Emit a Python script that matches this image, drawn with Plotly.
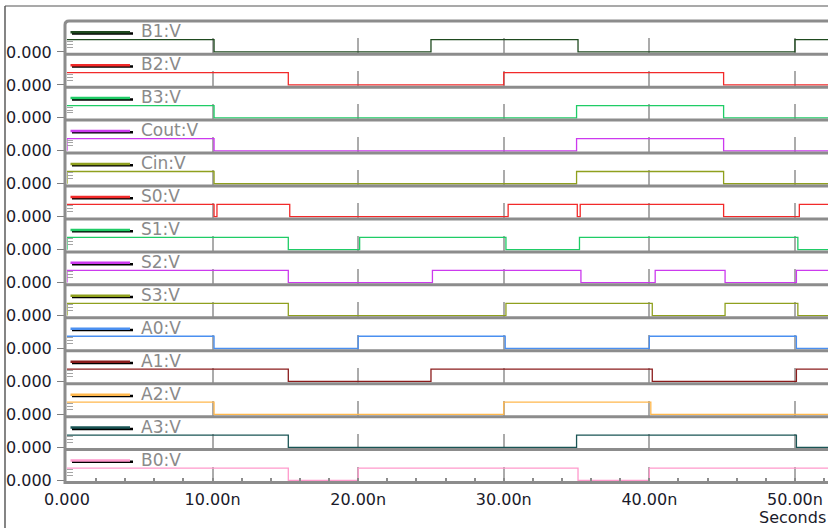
import plotly.graph_objects as go

# ---------------- data ----------------
signals = ["B1:V", "B2:V", "B3:V", "Cout:V", "Cin:V", "S0:V", "S1:V",
           "S2:V", "S3:V", "A0:V", "A1:V", "A2:V", "A3:V", "B0:V"]
colors = ["#1f4a1f", "#f22a2a", "#1fcc66", "#cc3aee", "#8fa01e", "#f22a2a", "#1fcc66",
          "#cc3aee", "#8fa01e", "#4a8ff0", "#8b1c1c", "#ffb84d", "#1a5555", "#ff99cc"]
initial_levels = [1, 1, 1, 0, 0, 1, 0, 0, 0, 1, 1, 1, 1, 1]
# times (ns) at which each signal toggles
edge_times = [
    [10.1, 25.0, 35.1, 50.0],                        # B1
    [15.2, 30.0, 45.1],                              # B2
    [10.1, 35.0, 45.1],                              # B3
    [0.0, 10.1, 35.0, 45.1],                         # Cout
    [0.0, 10.1, 35.0, 45.1],                         # Cin
    [10.1, 10.3, 15.3, 30.3, 35.05, 35.25, 45.1, 50.3],  # S0
    [0.0, 15.2, 20.1, 30.15, 35.2, 50.2],            # S1
    [0.0, 15.2, 25.1, 35.3, 40.4, 45.2, 50.1],       # S2
    [0.0, 15.2, 30.15, 40.2, 45.2, 50.2],            # S3
    [10.1, 20.0, 30.1, 40.0, 50.1],                  # A0
    [15.2, 25.0, 40.2, 50.1],                        # A1
    [10.1, 30.0, 40.1],                              # A2
    [15.2, 35.0, 50.1],                              # A3
    [15.2, 20.0, 35.1, 40.0],                        # B0
]
t_end = 53.0
x_range = [0, 52.27]
x_tick_vals = [0, 10, 20, 30, 40, 50]
x_tick_text = ["0.000", "10.00n", "20.00n", "30.00n", "40.00n", "50.00n"]
y_tick_text = ["0.000"]
x_title = "Seconds"

# ---------------- geometry helpers ----------------
W, H = 828, 528
ML, MR, MT, MB = 67, 0, 18, 42
PW = W - ML - MR
PH = H - MT - MB
FONT = "DejaVu Sans"
GRAY = "#8c8c8c"
TXT = "#1a1a2a"


def px2x(px):
    return (px - ML) / PW


def px2y(py):
    return (H - MB - py) / PH


n = len(signals)
fig = go.Figure()
shapes = []
annotations = []

for k in range(n):
    i = k + 1
    yc = 54.2 + 32.95 * k           # separator centre (px)
    xs, ys = [0.0], [initial_levels[k]]
    lvl = initial_levels[k]
    for t in edge_times[k]:
        lvl = 1 - lvl
        xs.append(t)
        ys.append(lvl)
    xs.append(t_end)
    ys.append(lvl)
    xname = "x" if i == 1 else f"x{i}"
    yname = "y" if i == 1 else f"y{i}"
    fig.add_trace(go.Scatter(x=xs, y=ys, mode="lines", line_shape="hv",
                             line=dict(color=colors[k], width=1.3),
                             xaxis=xname, yaxis=yname, showlegend=False,
                             hoverinfo="skip"))
    bottom = (k == n - 1)
    xa = dict(domain=[0, 1], range=x_range, anchor=yname,
              showgrid=True, gridcolor="#ababab", gridwidth=2,
              zeroline=False, showline=False, fixedrange=True,
              tickmode="array",
              tickvals=x_tick_vals if bottom else x_tick_vals[1:],
              ticktext=x_tick_text if bottom else x_tick_text[1:],
              showticklabels=bottom)
    if bottom:
        xa.update(ticks="inside", ticklen=4, tickcolor=GRAY, tickwidth=1.5,
                  tickfont=dict(family=FONT, size=16, color=TXT),
                  ticklabelstandoff=5,
                  minor=dict(tickmode="linear", tick0=0, dtick=2, ticks="inside",
                             ticklen=5, tickcolor=GRAY, tickwidth=1.5, showgrid=False))
    else:
        xa.update(ticks="")
    ya = dict(domain=[px2y(yc), px2y(yc - 16)], range=[-0.184, 1.122],
              anchor=xname, showgrid=False, zeroline=False, showline=False,
              fixedrange=True, tickmode="array", tickvals=[0], ticktext=y_tick_text,
              ticks="outside", ticklen=9, tickcolor="#808080", tickwidth=1,
              ticklabelstandoff=2,
              tickfont=dict(family=FONT, size=16, color=TXT),
              minor=dict(tickmode="array", tickvals=[0.4, 0.64, 0.88], ticks="inside",
                         ticklen=6, tickcolor="#a5a5a5", tickwidth=1, showgrid=False))
    fig.update_layout({("xaxis" if i == 1 else f"xaxis{i}"): xa,
                       ("yaxis" if i == 1 else f"yaxis{i}"): ya})

    # separator
    shapes.append(dict(type="line", xref="paper", yref="paper",
                       x0=px2x(64), x1=1, y0=px2y(yc), y1=px2y(yc),
                       line=dict(color=GRAY, width=3), layer="above"))
    # legend swatch (shadow + colour)
    shapes.append(dict(type="line", xref="paper", yref="paper",
                       x0=px2x(72), x1=px2x(133), y0=px2y(yc - 20.7), y1=px2y(yc - 20.7),
                       line=dict(color="#000000", width=2.5)))
    shapes.append(dict(type="line", xref="paper", yref="paper",
                       x0=px2x(70.5), x1=px2x(130), y0=px2y(yc - 22), y1=px2y(yc - 22),
                       line=dict(color=colors[k], width=2.5)))
    annotations.append(dict(text=signals[k], xref="paper", yref="paper",
                            x=px2x(139), y=px2y(yc - 23), xanchor="left", yanchor="middle",
                            showarrow=False,
                            font=dict(family=FONT, size=17, color="#8a8a8a")))

# left axis + top border with rounded corner
path = (f"M {px2x(65)},{px2y(484)} L {px2x(65)},{px2y(25)} "
        f"Q {px2x(65)},{px2y(21)} {px2x(69)},{px2y(21)} L 1,{px2y(21)}")
shapes.append(dict(type="path", xref="paper", yref="paper", path=path,
                   line=dict(color=GRAY, width=3), layer="above"))
# outer frame (left and top)
shapes.append(dict(type="line", xref="paper", yref="paper",
                   x0=px2x(5), x1=px2x(5), y0=px2y(6), y1=px2y(530),
                   line=dict(color="#333333", width=1.2)))
shapes.append(dict(type="line", xref="paper", yref="paper",
                   x0=px2x(5), x1=px2x(830), y0=px2y(6), y1=px2y(6),
                   line=dict(color="#555555", width=1.2)))

annotations.append(dict(text=x_title, xref="paper", yref="paper",
                        x=px2x(757), y=px2y(517), xanchor="left", yanchor="middle",
                        showarrow=False, font=dict(family=FONT, size=16, color=TXT)))

fig.update_layout(width=W, height=H,
                  margin=dict(l=ML, r=MR, t=MT, b=MB),
                  paper_bgcolor="white", plot_bgcolor="rgba(0,0,0,0)",
                  shapes=shapes, annotations=annotations, showlegend=False)

fig.write_html("out.html")
